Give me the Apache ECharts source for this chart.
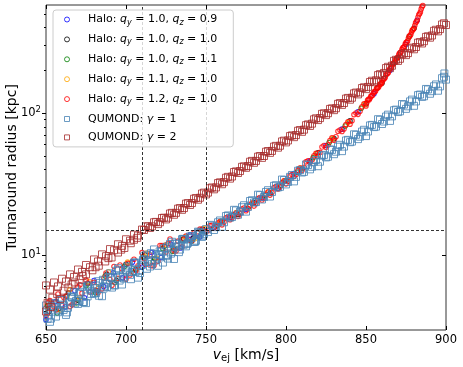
<!DOCTYPE html>
<html>
<head>
<meta charset="utf-8">
<title>Turnaround radius</title>
<script src="https://cdn.jsdelivr.net/npm/echarts@6/dist/echarts.min.js"></script>
<style>
html, body { margin: 0; padding: 0; background: #fff; }
#chart { width: 463px; height: 367px; }
</style>
</head>
<body>
<div id="chart"></div>
<script>
// axis ticks and reference lines
var xTicks = [650, 700, 750, 800, 850, 900];
var yTicks = [10, 100];
var yMinorTicks = [4, 5, 6, 7, 8, 9, 20, 30, 40, 50, 60, 70, 80, 90, 200, 300, 400, 500];
var vLines = [710, 750];
var hLine = 15;

// legend text parts
var haloQy = ['1.0', '1.0', '1.0', '1.1', '1.2'];
var haloQz = ['0.9', '1.0', '1.1', '1.0', '1.0'];
var gammas = ['1', '2'];

// halo models, [v_ej, r_ta]
var haloQ10_09 = [[650,3.5],[656,4.7],[662,4.3],[668,5.6],[674,5.0],[680,6.6],[686,6.0],[692,7.5],[698,6.9],[704,8.9],[710,8.2],[716,10.4],[722,9.6],[728,11.9],[734,11.2],[740,13.8],[746,13.4],[755,15.6],[765,18.4],[775,21.0],[785,25.2],[795,29.5],[805,37.5],[815,46],[825,59],[835,77],[845,102],[855,137],[865,200],[875,305],[882,450]];
var haloQ10_10 = [[652,4.0],[658,4.2],[664,5.4],[670,4.8],[676,6.3],[682,5.6],[688,7.3],[694,6.6],[700,8.6],[706,7.9],[712,10.0],[718,9.4],[724,11.5],[730,11.0],[736,13.0],[742,13.1],[748,15.2],[760,17.2],[770,19.3],[780,23.4],[790,27.2],[800,33.5],[810,40.5],[820,52.5],[830,66],[840,88],[850,116],[860,163],[870,246],[880,395]];
var haloQ10_11 = [[651,4.4],[657,3.9],[663,5.1],[669,4.6],[675,6.1],[681,5.4],[687,7.1],[693,6.4],[699,8.3],[705,7.5],[711,9.7],[717,9.0],[723,11.1],[729,10.6],[735,12.8],[741,12.5],[747,14.9],[757,16.2],[767,19.0],[777,22.0],[787,26.2],[797,31.0],[807,38.3],[817,48.5],[827,62],[837,81],[847,108],[857,150],[867,222],[877,345]];
var haloQ11_10 = [[653,4.6],[659,4.1],[665,5.7],[671,5.0],[677,6.5],[683,5.9],[689,7.6],[695,6.8],[701,8.9],[707,8.1],[713,10.3],[719,9.5],[725,11.8],[731,11.1],[737,13.4],[743,13.0],[749,15.4],[759,17.3],[769,19.9],[779,23.1],[789,27.9],[799,33.3],[809,40.9],[819,51.5],[829,66],[839,86],[849,115],[859,160],[869,242],[879,385]];
var haloQ12_10 = [[650,3.70],[652.5,4.77],[655,4.30],[657.5,5.31],[660,4.39],[662.5,5.13],[665,4.33],[667.5,4.62],[670,5.96],[672.5,5.38],[675,6.65],[677.5,5.49],[680,6.41],[682.5,5.41],[685,5.77],[687.5,7.46],[690,6.72],[692.5,8.30],[695,6.86],[697.5,8.01],[700,6.76],[702.5,7.22],[705,9.32],[707.5,8.39],[710,10.38],[712.5,8.57],[715,10.0],[717.5,8.44],[720,9.03],[722.5,11.65],[725,10.49],[727.5,12.97],[730,10.72],[732.5,12.51],[735,11.4],[737.5,13.6],[740,12.7],[742.5,14.3],[745,13.6],[747.5,15.1],[750,14.6],
  [651.25,4.61],[656.25,4.10],[661.25,5.0],[666.25,4.45],[671.25,6.17],[676.25,6.34],[681.25,5.63],[686.25,6.87],[691.25,6.11],[696.25,8.49],[701.25,8.73],[706.25,7.75],[711.25,9.45],[716.25,8.41],[721.25,11.67],[726.25,11.99],[731.25,10.66],[736.25,13.0],[741.25,12.6],[746.25,15.2],
  [752.5,16.1],[755,15.5],[757.5,16.8],[760,16.3],[762.5,18.3],[765,17.7],[767.5,19.2],[770,18.7],[772.5,21.1],[775,20.5],[777.5,22.5],[780,22.1],[782.5,25.0],[785,24.4],[787.5,26.8],[790,26.4],[792.5,29.9],[795,29.2],[797.5,32.2],[800,31.7],[802.5,36.2],[805,35.7],[807.5,39.6],[810,39.4],[812.5,45.3],[815,44.8],[817.5,50.0],[820,49.9],[822.5,57.6],[825,57.3],[827.5,64.1],[830,64.3],[832.5,74.4],[835,74.1],[837.5,83.1],[840,83.5],[842.5,97.4],[845,97.9],[847.5,110.8],[850,112.3],
  [751.25,14.9],[753.75,16.2],[756.25,15.9],[758.75,17.2],[761.25,17.1],[763.75,18.5],[766.25,18.2],[768.75,19.7],[771.25,19.5],[773.75,21.4],[776.25,21.2],[778.75,23.2],[781.25,23.0],[783.75,25.4],[786.25,25.1],[788.75,27.7],[791.25,27.5],[793.75,30.3],[796.25,30.2],[798.75,33.3],[801.25,33.1],[803.75,36.9],[806.25,36.9],[808.75,41.0],[811.25,41.4],[813.75,46.1],[816.25,46.6],[818.75,52.0],[821.25,52.8],[823.75,59.0],[826.25,59.5],[828.75,66.9],[831.25,68.0],[833.75,76.0],[836.25,77.3],[838.75,86.8],[841.25,88.4],[843.75,100.0],[846.25,102.8],[848.75,116.0],
  [851,123],[852,124],[853,131],[854,133],[855,141],[856,143],[857,151],[858,153],[859,161],[860,164],[861,174],[862,178],[863,189],[864,193],[865,206],[866,210],[867,224],[868,228],[869,243],[870,248],[871,265],[872,270],[873,288],[874,294],[875,314],[876,322],[877,348],[878,357],[879,385],[880,396],[881,432],[882,451],[883,492],[884,515],[885,560],[886,590],
  [850.5,118],[851.5,125],[852.5,127],[853.5,133],[854.5,138],[855.5,141],[856.5,148],[857.5,151],[858.5,158],[859.5,161],[860.5,170],[861.5,175],[862.5,185],[863.5,190],[864.5,201],[865.5,207],[866.5,219],[867.5,225],[868.5,237],[869.5,244],[870.5,258],[871.5,266],[872.5,281],[873.5,290],[874.5,306],[875.5,316],[876.5,336],[877.5,350],[878.5,372],[879.5,388],[880.5,414],[881.5,440],[882.5,473],[883.5,500],[884.5,540],[885.5,572]];

// QUMOND models
var qumondG1 = [[650,4.41],[651,3.55],[652.5,3.38],[655,4.26],[656,4.5],[657.5,3.95],[660,4.83],[661,4.1],[662.5,3.78],[665,4.65],[666,5.05],[667.5,5.48],[670,4.52],[671,4.75],[672.5,5.96],[675,4.58],[676,5.1],[677.5,5.78],[680,5.35],[681,6.1],[682.5,6.53],[685,5.12],[686,5.8],[687.5,6.29],[690,7.42],[691,6.9],[692.5,6.12],[695,8.07],[696,6.6],[697.5,6.19],[700,7.82],[701,8.3],[702.5,7.24],[705,8.85],[706,7.6],[707.5,6.92],[710,8.52],[711,9.3],[712.5,10.04],[715,8.29],[716,9.0],[717.5,10.94],[720,8.39],[721,10.6],[722.5,10.58],[725,9.8],[726,10.0],[727.5,11.97],[730,9.37],[731,12.0],[732.5,11.53],[735,12.9],[736,11.8],[737.5,11.5],[740,13.5],[741,13.2],[742.5,12.4],[745,14.6],[746,13.9],[747.5,13.4],[750,15.2],
  [651.25,3.74],[653.75,4.36],[656.25,3.68],[658.75,4.83],[661.25,4.42],[663.75,4.25],[666.25,5.01],[668.75,4.74],[671.25,5.50],[673.75,4.65],[676.25,6.11],[678.75,5.59],[681.25,5.38],[683.75,6.34],[686.25,6.0],[688.75,6.98],[691.25,5.89],[693.75,7.73],[696.25,7.08],[698.75,6.81],[701.25,8.02],[703.75,7.6],[706.25,8.83],[708.75,7.46],[711.25,9.79],[713.75,8.96],[716.25,8.62],[718.75,10.17],[721.25,9.61],[723.75,11.17],[726.25,9.43],[728.75,12.38],[731.25,11.34],[733.75,10.91],[736.25,12.86],[738.75,12.17],[741.25,13.6],[743.75,12.6],[746.25,14.3],[748.75,14.0],
  [650.6,4.10],[653.1,3.56],[655.6,4.59],[658.1,4.06],[660.6,4.47],[663.1,3.94],[665.6,5.11],[668.1,4.56],[670.6,5.36],[673.1,4.66],[675.6,6.0],[678.1,5.32],[680.6,5.84],[683.1,5.16],[685.6,6.68],[688.1,5.96],[690.6,7.02],[693.1,6.10],[695.6,7.86],[698.1,6.97],[700.6,7.66],[703.1,6.75],[705.6,8.75],[708.1,7.80],[710.6,9.19],[713.1,7.99],[715.6,10.29],[718.1,9.12],[720.6,10.03],[723.1,8.84],[725.6,11.46],[728.1,10.22],[730.6,12.03],[733.1,10.47],[735.6,12.99],[738.1,11.94],[740.6,13.12],[743.1,12.37],[745.6,14.45],[748.1,13.66],
  [752.5,16.3],[755,15.0],[757.5,17.0],[760,15.8],[762.5,18.8],[765,18.3],[767.5,20.8],[770,19.2],[772.5,21.7],[775,20.2],[777.5,24.0],[780,23.4],[782.5,26.6],[785,24.6],[787.5,27.8],[790,25.8],[792.5,30.7],[795,29.9],[797.5,34.0],[800,31.4],[802.5,35.5],[805,33.0],[807.5,39.2],[810,38.1],[812.5,43.4],[815,40.1],[817.5,45.3],[820,42.2],[822.5,50.1],[825,48.7],[827.5,55.4],[830,51.3],[832.5,57.9],[835,53.9],[837.5,64.1],[840,62.3],[842.5,70.8],[845,65.5],[847.5,74.0],[850,68.8],[852.5,81.8],[855,79.6],[857.5,90.5],[860,83.7],[862.5,94.5],[865,88.0],[867.5,104.6],[870,101.6],[872.5,115.7],[875,107.0],[877.5,120.8],[880,112.4],[882.5,133.7],[885,130.0],[887.5,147.8],[890,136.7],[892.5,154.4],[895,143.6],[897.5,176],[899,190],[900,172],
  [751.25,14.5],[753.75,16.1],[756.25,15.7],[758.75,17.5],[761.25,17.0],[763.75,19.0],[766.25,18.5],[768.75,20.6],[771.25,20.2],[773.75,22.4],[776.25,21.8],[778.75,24.3],[781.25,23.6],[783.75,26.4],[786.25,25.6],[788.75,28.6],[791.25,27.8],[793.75,31.0],[796.25,30.2],[798.75,33.7],[801.25,32.7],[803.75,36.6],[806.25,35.5],[808.75,39.6],[811.25,38.5],[813.75,43.0],[816.25,41.8],[818.75,46.7],[821.25,45.4],[823.75,50.7],[826.25,49.2],[828.75,55.0],[831.25,53.4],[833.75,59.7],[836.25,58.0],[838.75,64.7],[841.25,62.9],[843.75,70.2],[846.25,68.1],[848.75,76.2],[851.25,74.1],[853.75,82.5],[856.25,80.2],[858.75,89.6],[861.25,87.1],[863.75,97.4],[866.25,94.7],[868.75,105.7],[871.25,102.8],[873.75,114.7],[876.25,111.5],[878.75,124.3],[881.25,120.7],[883.75,135.0],[886.25,131.2],[888.75,146.6],[891.25,142.5],[893.75,159.0],[896.25,154.1],[898.75,180]];
var qumondG2 = [[650,6.1],[652.5,5.7],[655,6.4],[657.5,6.0],[660,6.8],[662.5,6.5],[665,7.3],[667.5,7.0],[670,7.9],[672.5,7.6],[675,8.5],[677.5,8.2],[680,9.3],[682.5,9.0],[685,10.1],[687.5,9.8],[690,11.0],[692.5,10.8],[695,11.9],[697.5,11.6],[700,12.9],[702.5,12.6],[705,13.9],[707.5,13.7],[710,15.1],
  [650,4.0],[651,4.6],[653,4.3],[654,5.0],[657,5.3],[659,4.9],[661,5.6],[664,5.9],[666,6.2],[668,6.4],[671,6.7],[673,7.1],[675,7.3],[679,7.8],[681,8.2],[683,8.4],[687,9.0],[689,9.5],[691,9.6],[695,10.4],[697,10.9],[699,11.2],[703,12.1],[705,12.8],[707,13.2],
  [712.5,15.9],[715,15.5],[717.5,17.0],[720,16.5],[722.5,18.2],[725,17.8],[727.5,19.6],[730,19.2],[732.5,21.2],[735,20.8],[737.5,23.0],[740,22.5],[742.5,24.9],[745,24.5],[747.5,27.1],[750,26.7],[752.5,29.5],[755,29.0],[757.5,32.1],[760,31.5],[762.5,35.0],[765,34.5],[767.5,38.4],[770,37.8],[772.5,41.8],[775,41.1],[777.5,45.4],[780,44.6],[782.5,49.3],[785,48.3],[787.5,53.4],[790,52.4],[792.5,58.0],[795,57.0],[797.5,63.1],[800,62.1],[802.5,68.8],[805,67.6],[807.5,75.0],[810,73.7],[812.5,82.1],[815,81.1],[817.5,90.3],[820,89.2],[822.5,98.7],[825,96.7],[827.5,106.9],[830,104.8],[832.5,116.1],[835,114.1],[837.5,126.4],[840,124.2],[842.5,137.6],[845,135.3],[847.5,150],[850,147.4],[852.5,165.5],[855,164.8],[857.5,185],[860,184.3],[862.5,207.4],[865,207.1],[867.5,233.2],[870,232.8],[872.5,259.2],[875,255.9],[877.5,284.9],[880,281.3],[882.5,313],[885,309],[887.5,344],[890,339.5],[892.5,379.5],[895,376.3],[897.5,420.7],[900,417],
  [711.25,15.0],[713.75,15.9],[716.25,15.9],[718.75,17.1],[721.25,17.0],[723.75,18.3],[726.25,18.3],[728.75,19.8],[731.25,19.8],[733.75,21.4],[736.25,21.4],[738.75,23.2],[741.25,23.2],[743.75,25.2],[746.25,25.3],[748.75,27.5],[751.25,27.5],[753.75,29.9],[756.25,29.9],[758.75,32.5],[761.25,32.6],[763.75,35.5],[766.25,35.7],[768.75,38.8],[771.25,39.0],[773.75,42.1],[776.25,42.3],[778.75,46.0],[781.25,46.0],[783.75,49.8],[786.25,49.8],[788.75,54.0],[791.25,54.1],[793.75,58.7],[796.25,58.8],[798.75,63.9],[801.25,64.1],[803.75,69.6],[806.25,69.9],[808.75,75.9],[811.25,76.4],[813.75,83.2],[816.25,84.2],[818.75,91.8],[821.25,92.1],[823.75,99.6],[826.25,99.7],[828.75,107.9],[831.25,108.1],[833.75,117.5],[836.25,117.6],[838.75,127.8],[841.25,128.2],[843.75,139.4],[846.25,139.6],[848.75,151.9],[851.25,152.8],[853.75,168.8],[856.25,170.0],[858.75,188.0],[861.25,191.6],[863.75,211.7],[866.25,215.5],[868.75,237.3],[871.25,241.1],[873.75,263.1],[876.25,264.4],[878.75,288.9],[881.25,291.8],[883.75,316.2],[886.25,320.6],[888.75,347.5],[891.25,351.9],[893.75,386.0],[896.25,390.3],[898.75,428.9]];

var FONT = 'DejaVu Sans';
var haloData = [haloQ10_09, haloQ10_10, haloQ10_11, haloQ11_10, haloQ12_10];
var haloColors = ['#0000ff', '#000000', '#008000', '#ffa500', '#ff0000'];
var qumondData = [qumondG1, qumondG2];
var qumondColors = ['#4682b4', '#a52a2a'];

var series = [], legendData = [], names = [];
haloData.forEach(function (d, i) {
	var name = 'Halo: qy=' + haloQy[i] + ', qz=' + haloQz[i];
	names.push(name);
	series.push({
		name: name, type: 'scatter', data: d,
		symbol: 'circle', symbolSize: 4.5,
		itemStyle: { color: 'transparent', borderColor: haloColors[i], borderWidth: 1.1 }
	});
	legendData.push({ name: name, icon: 'circle',
		itemStyle: { color: 'transparent', borderColor: haloColors[i], borderWidth: 1 } });
});
qumondData.forEach(function (d, i) {
	var name = 'QUMOND: gamma=' + gammas[i];
	names.push(name);
	series.push({
		name: name, type: 'scatter', data: d,
		symbol: 'rect', symbolSize: 7,
		itemStyle: { color: 'transparent', borderColor: qumondColors[i], borderWidth: 1, opacity: 0.8 }
	});
	legendData.push({ name: name, icon: 'path://M0,0H10V10H0Z',
		itemStyle: { color: 'transparent', borderColor: qumondColors[i], borderWidth: 1, opacity: 0.8 } });
});

// dashed guide lines
series[series.length - 1].markLine = {
	silent: true, symbol: 'none', label: { show: false },
	lineStyle: { color: '#000', type: [3, 2], width: 0.8, opacity: 1 },
	data: vLines.map(function (v) { return { xAxis: v }; }).concat([{ yAxis: hLine }])
};

function legendLabel(name) {
	var i = names.indexOf(name);
	if (i < 5) {
		return '{sp| }{n|Halo: }{i|q}{s|y}{n| = ' + haloQy[i] + ', }{i|q}{s|z}{n| = ' + haloQz[i] + '}';
	}
	return '{sp| }{n|QUMOND: }{i|γ}{n| = ' + gammas[i - 5] + '}';
}

var yMin = 2.96, yMax = 577;

var option = {
	animation: false,
	backgroundColor: '#fff',
	grid: { left: 46, right: 17, top: 5, bottom: 37, show: true, borderColor: '#333', borderWidth: 1, outerBoundsMode: 'none' },
	legend: {
		orient: 'vertical', left: 53, top: 10, z: 20,
		padding: [4, 16, 4, 11], itemGap: 7.4, itemWidth: 14, itemHeight: 5,
		backgroundColor: 'rgba(255,255,255,0.8)', borderColor: '#ccc', borderWidth: 1, borderRadius: 3,
		data: legendData,
		formatter: legendLabel,
		textStyle: {
			fontFamily: FONT, fontSize: 11, color: '#000',
			rich: {
				sp: { width: 9, fontSize: 11, lineHeight: 14 },
				n: { fontFamily: FONT, fontSize: 11, lineHeight: 14, color: '#000' },
				i: { fontFamily: FONT, fontSize: 11, lineHeight: 14, fontStyle: 'italic', color: '#000' },
				s: { fontFamily: FONT, fontSize: 8, lineHeight: 6, fontStyle: 'italic', verticalAlign: 'bottom', color: '#000' }
			}
		}
	},
	xAxis: [{
		type: 'value', min: 650, max: 900, interval: 50, position: 'bottom',
		axisLine: { show: false }, splitLine: { show: false },
		axisTick: { inside: true, length: 4, lineStyle: { color: '#000' } },
		axisLabel: { fontFamily: FONT, fontSize: 11.5, color: '#000', margin: 4 },
		name: '{i|v}{s|ej}{n| [km/s]}', nameLocation: 'middle', nameGap: 17, nameMoveOverlap: false,
		nameTextStyle: {
			rich: {
				i: { fontFamily: FONT, fontSize: 14, lineHeight: 16, fontStyle: 'italic', color: '#000' },
				s: { fontFamily: FONT, fontSize: 10, lineHeight: 8, verticalAlign: 'bottom', color: '#000' },
				n: { fontFamily: FONT, fontSize: 14, lineHeight: 16, color: '#000' }
			}
		}
	}, {
		type: 'value', min: 650, max: 900, interval: 50, position: 'top',
		axisLine: { show: false }, splitLine: { show: false },
		axisTick: { inside: true, length: 4, lineStyle: { color: '#000' } },
		axisLabel: { show: false }
	}],
	yAxis: [{
		type: 'log', logBase: 10, min: yMin, max: yMax, position: 'left',
		axisLine: { show: false }, splitLine: { show: false },
		axisTick: { inside: false, length: 4, customValues: yTicks, lineStyle: { color: '#000' } },
		axisLabel: {
			customValues: yTicks, margin: 5,
			formatter: function (v) { return '{b|10}{e|' + Math.round(Math.log10(v)) + '}'; },
			rich: {
				b: { fontFamily: FONT, fontSize: 11.5, lineHeight: 16, color: '#000' },
				e: { fontFamily: FONT, fontSize: 8.5, lineHeight: 8, verticalAlign: 'top', color: '#000' }
			}
		},
		name: 'Turnaround radius [kpc]', nameLocation: 'middle', nameGap: 27, nameMoveOverlap: false,
		nameTextStyle: { fontFamily: FONT, fontSize: 14, color: '#000' }
	}, {
		type: 'log', logBase: 10, min: yMin, max: yMax, position: 'left',
		axisLine: { show: false }, splitLine: { show: false },
		axisTick: { inside: false, length: 2, customValues: yMinorTicks, lineStyle: { color: '#000' } },
		axisLabel: { show: false }
	}, {
		type: 'log', logBase: 10, min: yMin, max: yMax, position: 'right',
		axisLine: { show: false }, splitLine: { show: false },
		axisTick: { inside: true, length: 4, customValues: yTicks, lineStyle: { color: '#000' } },
		axisLabel: { show: false }
	}],
	series: series
};

var chart = echarts.init(document.getElementById('chart'));
chart.setOption(option);
</script>
</body>
</html>
